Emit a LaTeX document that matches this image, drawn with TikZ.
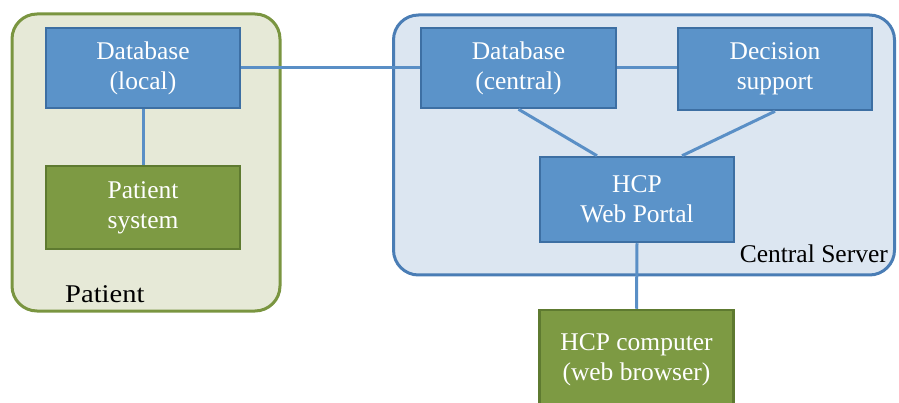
\documentclass[tikz,border=0pt]{standalone}
\usepackage{fontspec}
\setmainfont{Liberation Serif}
\definecolor{bluefill}{HTML}{5B93C9}
\definecolor{blueedge}{HTML}{3D6FA3}
\definecolor{greenfill}{HTML}{7D9A43}
\definecolor{greenedge}{HTML}{5E7A30}
\definecolor{patfill}{HTML}{E6E9D7}
\definecolor{patedge}{HTML}{7A9540}
\definecolor{cenfill}{HTML}{DCE6F1}
\definecolor{cenedge}{HTML}{4A7DB5}
\definecolor{wire}{HTML}{5A8FC6}
\begin{document}
\begin{tikzpicture}[x=1pt,y=-1pt,
  txt/.style={font=\fontsize{25.5}{30}\selectfont, align=center, text=white},
  bluebox/.style={txt, rectangle, draw=blueedge, fill=bluefill, line width=2.5pt, minimum width=194pt, inner sep=0pt},
  greenbox/.style={txt, rectangle, draw=greenedge, fill=greenfill, line width=2.5pt, minimum width=194pt, inner sep=0pt},
  container/.style={rectangle, rounded corners=25pt, line width=3pt, inner sep=0pt},
  wirestyle/.style={draw=wire, line width=3pt},
  label/.style={font=\fontsize{25.5}{30}\selectfont, text=black, inner sep=0pt}
]
\useasboundingbox (0,0) rectangle (899,403);
\clip (0,0) rectangle (899,403);
% containers
\node[container, draw=patedge, fill=patfill, minimum width=268pt, minimum height=297pt] (patient) at (146,162.5) {};
\node[container, draw=cenedge, fill=cenfill, minimum width=501pt, minimum height=260pt] (central) at (644,145) {};
\node[label, anchor=base west] (patlabel) at (65,302) {\scalebox{1.12}[1]{Patient}};
\node[label, anchor=base east] (cenlabel) at (888,262) {Central Server};
% boxes
\node[bluebox, minimum height=80pt] (dbl) at (143,68) {Database\\(local)};
\node[greenbox, minimum height=83pt] (ps) at (143,207.5) {Patient\\system};
\node[bluebox, minimum height=80pt, minimum width=195pt] (dbc) at (518.5,68) {Database\\(central)};
\node[bluebox, minimum height=82pt] (ds) at (775,69) {Decision\\support};
\node[bluebox, minimum height=85pt] (hcp) at (637,199.5) {HCP\\Web Portal};
\node[greenbox, minimum height=100pt] (pc) at (636.5,360) {HCP computer\\(web browser)};
% connectors
\draw[wirestyle] (dbl.south) -- (ps.north);
\draw[wirestyle] (dbl.east) -- (dbc.west);
\draw[wirestyle] (dbc.east) -- (dbc.east -| ds.west);
\draw[wirestyle] (dbc.south) -- ([xshift=-40pt]hcp.north);
\draw[wirestyle] (ds.south) -- ([xshift=45pt]hcp.north);
\draw[wirestyle] (hcp.south) -- (pc.north);
\end{tikzpicture}
\end{document}
